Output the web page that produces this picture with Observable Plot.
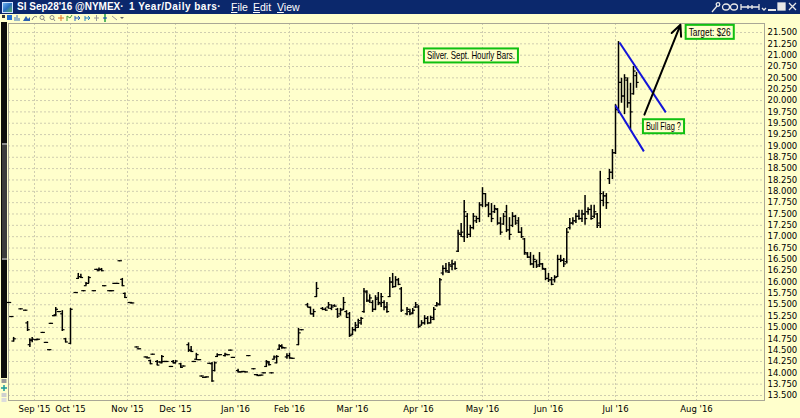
<!DOCTYPE html>
<html><head><meta charset="utf-8">
<script src="https://cdn.jsdelivr.net/npm/d3@7"></script>
<script src="https://cdn.jsdelivr.net/npm/@observablehq/plot@0.6"></script>
<style>
html,body{margin:0;padding:0;width:800px;height:418px;overflow:hidden;background:#ffffcc;position:relative;font-family:"Liberation Sans",Arial,sans-serif;}
#titlebar{position:absolute;left:0;top:0;width:800px;height:14px;background:#0b286c;color:#fff;font-size:10px;line-height:14px;white-space:nowrap;}
#titlebar span{position:absolute;top:0;}
.b{font-weight:bold;}
.u{text-decoration:underline;}
#icon{position:absolute;left:2px;top:2px;width:9px;height:9px;background:linear-gradient(135deg,#6fb4f0,#2a6fc0 50%,#5cb85c);border:1px solid #cfe3ff;}
#strip{position:absolute;left:1px;top:22px;width:6px;height:356px;background:#0c0c0c;}
#thumb{position:absolute;left:1px;top:121px;width:5px;height:117px;background:#3c3c3c;border-top:2px solid #8a8a8a;border-bottom:2px solid #8a8a8a;box-sizing:border-box;}
#chart{position:absolute;left:0;top:22px;}
</style></head>
<body>
<div id="titlebar">
  <div id="icon"></div>
  <span class="b" style="left:17px">SI Sep28'16 @NYMEX·</span>
  <span class="b" style="left:129px;letter-spacing:0.5px">1 Year/Daily bars·</span>
  <span style="left:231px;font-size:10.5px"><span class="u" style="position:static">F</span>ile</span>
  <span style="left:253px;font-size:10.5px"><span class="u" style="position:static">E</span>dit</span>
  <span style="left:277px;font-size:10.5px"><span class="u" style="position:static">V</span>iew</span>
</div>
<svg width="800" height="14" style="position:absolute;left:0;top:0">
  <g stroke="#e8e8e8" fill="none" stroke-width="1.3">
    <path d="M712 12L717 6"/><circle cx="718" cy="4.5" r="1.8"/>
    <ellipse cx="726" cy="7" rx="3.5" ry="3"/><ellipse cx="734" cy="7" rx="3.5" ry="3"/>
    <path d="M741 4V10M741 7H759M759 4V10M748 5V9M752 5V9"/>
    <path d="M762 8L764 10L766 8"/>
    <path d="M768 10H776" stroke-width="2"/>
    <rect x="778" y="3" width="7" height="7" fill="#e8e8e8"/>
    <path d="M789 3L796 10M796 3L789 10"/>
  </g>
</svg>
<svg width="130" height="9" style="position:absolute;left:0;top:14px">
  <rect x="2" y="1" width="3" height="3" fill="#333"/>
  <rect x="7" y="1" width="5" height="5" fill="#1e6fd0"/>
  <path d="M15 7V3M17 7V1M19 7V4" stroke="#3070c0"/>
  <path d="M23 7L26 2L28 5L30 3V7Z" fill="#2a5fb0"/>
  <path d="M32 6Q34 1 37 3" stroke="#777" fill="none"/>
  <circle cx="42" cy="3.5" r="2" stroke="#888" fill="none"/><path d="M43.5 5L45 7" stroke="#888"/>
  <circle cx="52" cy="3.5" r="2" stroke="#888" fill="none"/><path d="M53.5 5L55 7" stroke="#888"/>
  <path d="M61 1V7M58 4H64" stroke="#e07020"/>
  <path d="M67 7V2L70 4L72 1" stroke="#3a9a3a" fill="none"/>
  <path d="M75 2V7M75 4H80M78 2L80 4L78 6" stroke="#2060c0" fill="none"/>
  <path d="M85 2V7M85 4H90M88 2L90 4L88 6" stroke="#2080c0" fill="none"/>
  <path d="M96.5 1V7M94 4H99" stroke="#999"/>
  <path d="M105 0V8" stroke="#20a040" stroke-width="1.5"/><path d="M103 4H107" stroke="#1040c0"/>
  <path d="M112 2L117 6" stroke="#999"/>
  <path d="M120 3H124L122 5Z" fill="#666"/>
</svg>
<div id="strip"><div id="thumb"></div></div>
<svg width="8" height="26" style="position:absolute;left:0;top:378px">
  <rect x="1.5" y="1" width="5" height="4" fill="#9a9a9a"/>
  <path d="M4 7V13M1 10H7" stroke="#1a9a9a" stroke-width="1.5"/>
  <rect x="1.5" y="15" width="5" height="4" fill="#cfcfcf"/>
  <rect x="1.5" y="20" width="5" height="4" fill="#dcdcdc"/>
</svg>
<div id="chart"></div>
<script>
// ---- OHLC daily bars ----
const barDates = [
 "2015-08-17","2015-08-18","2015-08-19","2015-08-24","2015-08-26","2015-08-27","2015-08-28","2015-08-31",
 "2015-09-02","2015-09-03","2015-09-08","2015-09-10","2015-09-14","2015-09-15","2015-09-17","2015-09-18","2015-09-22","2015-09-24","2015-09-28",
 "2015-10-01","2015-10-05","2015-10-06","2015-10-07","2015-10-08","2015-10-09","2015-10-12","2015-10-14","2015-10-15","2015-10-16","2015-10-19","2015-10-20","2015-10-22","2015-10-23","2015-10-26","2015-10-27","2015-10-28","2015-10-29","2015-10-30",
 "2015-11-03","2015-11-04","2015-11-06","2015-11-09","2015-11-12","2015-11-13","2015-11-16","2015-11-17","2015-11-19","2015-11-20","2015-11-23","2015-11-24","2015-11-25","2015-11-27","2015-11-30",
 "2015-12-01","2015-12-03","2015-12-04","2015-12-08","2015-12-09","2015-12-10","2015-12-11","2015-12-14","2015-12-15","2015-12-16","2015-12-17","2015-12-18","2015-12-21","2015-12-22","2015-12-23","2015-12-24","2015-12-28","2015-12-29","2015-12-30","2015-12-31",
 "2016-01-04","2016-01-05","2016-01-06","2016-01-07","2016-01-08","2016-01-12","2016-01-13","2016-01-14","2016-01-15","2016-01-18","2016-01-19","2016-01-20","2016-01-21","2016-01-22","2016-01-25","2016-01-26","2016-01-27","2016-01-28","2016-01-29",
 "2016-02-01","2016-02-02","2016-02-04","2016-02-05","2016-02-09","2016-02-10","2016-02-11","2016-02-12","2016-02-16","2016-02-17","2016-02-18","2016-02-19","2016-02-22","2016-02-23","2016-02-24","2016-02-25","2016-02-26","2016-02-29",
 "2016-03-01","2016-03-02","2016-03-03","2016-03-04","2016-03-07","2016-03-08","2016-03-09","2016-03-10","2016-03-11","2016-03-14","2016-03-15","2016-03-16","2016-03-17","2016-03-18","2016-03-21","2016-03-22","2016-03-23","2016-03-24","2016-03-28","2016-03-29","2016-03-30","2016-03-31",
 "2016-04-01","2016-04-04","2016-04-05","2016-04-06","2016-04-07","2016-04-08","2016-04-11","2016-04-12","2016-04-13","2016-04-14","2016-04-15","2016-04-18","2016-04-19","2016-04-20","2016-04-21","2016-04-22","2016-04-25","2016-04-26","2016-04-27","2016-04-28","2016-04-29",
 "2016-05-02","2016-05-03","2016-05-04","2016-05-05","2016-05-06","2016-05-09","2016-05-10","2016-05-11","2016-05-12","2016-05-13","2016-05-16","2016-05-17","2016-05-18","2016-05-19","2016-05-20","2016-05-23","2016-05-24","2016-05-25","2016-05-26","2016-05-27","2016-05-30","2016-05-31",
 "2016-06-01","2016-06-02","2016-06-03","2016-06-06","2016-06-07","2016-06-08","2016-06-09","2016-06-10","2016-06-13","2016-06-14","2016-06-15","2016-06-16","2016-06-17","2016-06-20","2016-06-21","2016-06-22","2016-06-23","2016-06-24","2016-06-27","2016-06-28","2016-06-29","2016-06-30",
 "2016-07-01","2016-07-04","2016-07-05","2016-07-06","2016-07-07","2016-07-08","2016-07-11","2016-07-12"
];
const barOpen = [
 15.55,15.24,14.70,15.41,15.38,15.10,14.62,14.72,
 14.73,14.74,14.89,14.67,14.51,15.09,15.26,15.28,15.35,15.30,14.75,
 14.65,15.77,16.08,16.12,15.81,15.92,15.97,15.81,16.28,16.25,16.28,15.92,15.81,15.81,15.97,15.97,16.47,16.06,15.75,
 15.55,15.54,14.57,14.53,14.35,14.33,14.27,14.41,14.25,14.24,14.22,14.25,14.25,14.14,14.25,
 14.22,14.20,14.15,14.62,14.50,14.25,14.30,14.29,13.93,13.90,13.91,14.21,14.20,14.05,14.36,14.40,14.38,14.40,14.50,14.34,
 14.05,14.02,14.03,14.02,14.38,14.09,13.96,13.94,13.95,14.00,14.14,14.22,14.00,14.30,14.22,14.52,14.58,14.55,14.35,
 14.38,14.32,14.62,14.95,15.50,15.44,15.30,15.68,15.42,15.40,15.45,15.42,15.48,15.40,15.30,15.40,15.35,15.30,
 14.85,14.95,15.00,15.10,15.35,15.78,15.58,15.55,15.40,15.65,15.52,15.55,15.45,15.68,16.00,15.90,16.05,15.85,15.30,15.35,15.32,15.45,
 15.45,15.05,15.10,15.20,15.10,15.18,15.48,15.50,16.20,16.30,16.22,16.35,16.40,16.68,17.05,17.00,17.45,17.05,17.20,17.35,17.40,
 17.70,17.95,17.70,17.50,17.55,17.60,17.30,17.28,17.55,17.15,17.25,17.45,17.35,17.10,16.95,16.62,16.55,16.40,16.45,16.38,16.40,16.28,
 16.08,16.05,16.05,16.12,16.50,16.48,16.45,17.20,17.30,17.35,17.45,17.40,17.50,17.55,17.60,17.45,17.50,17.30,17.80,17.90,18.28,18.42,
 18.85,19.80,20.40,20.10,20.45,19.95,20.15,20.55
];
const barHigh = [
 15.55,15.24,14.78,15.41,15.38,15.13,14.75,14.78,
 14.73,14.74,14.89,14.67,14.51,15.09,15.26,15.44,15.35,15.37,14.76,
 15.42,15.77,16.19,16.17,15.81,15.99,16.12,15.81,16.28,16.31,16.30,15.92,15.81,15.81,15.97,15.97,16.47,16.08,15.76,
 15.55,15.54,14.57,14.53,14.35,14.33,14.28,14.41,14.27,14.24,14.38,14.25,14.25,14.14,14.27,
 14.27,14.21,14.15,14.66,14.58,14.25,14.43,14.29,13.93,13.90,13.91,14.21,14.23,14.24,14.42,14.40,14.43,14.40,14.50,14.34,
 14.08,14.02,14.03,14.02,14.38,14.09,13.96,13.94,13.95,14.00,14.27,14.25,14.00,14.37,14.38,14.62,14.62,14.55,14.42,
 14.43,14.32,14.98,14.95,15.53,15.45,15.40,15.99,15.44,15.43,15.55,15.50,15.50,15.42,15.42,15.66,15.37,15.33,
 15.00,15.11,15.18,15.22,15.86,15.81,15.72,15.59,15.70,15.77,15.75,15.59,15.55,16.10,16.19,16.12,16.08,15.88,15.44,15.40,15.42,15.55,
 15.48,15.15,15.26,15.24,15.25,15.44,15.55,16.08,16.36,16.41,16.43,16.48,16.45,17.14,17.29,17.80,17.51,17.25,17.51,17.45,17.75,
 18.08,17.95,17.75,17.73,17.69,17.62,17.42,17.51,17.69,17.42,17.53,17.47,17.42,17.20,16.96,16.65,16.65,16.59,16.48,16.65,16.41,16.30,
 16.19,16.10,16.14,16.59,16.59,16.52,17.18,17.40,17.42,17.51,17.58,17.58,17.91,17.64,17.69,17.69,17.51,18.44,17.99,17.95,18.48,18.92,
 19.91,21.30,20.49,20.57,20.50,20.38,20.75,20.62
];
const barLow = [
 15.55,15.24,14.68,15.41,15.38,14.91,14.56,14.66,
 14.73,14.74,14.89,14.67,14.51,15.09,15.26,15.26,15.35,14.91,14.66,
 14.62,15.77,16.06,16.08,15.81,15.92,15.97,15.81,16.28,16.24,16.23,15.92,15.81,15.81,15.97,15.97,16.47,15.90,15.64,
 15.55,15.54,14.57,14.53,14.35,14.33,14.18,14.41,14.16,14.24,14.20,14.25,14.25,14.14,14.20,
 14.20,14.10,14.15,14.45,14.45,14.25,14.27,14.29,13.93,13.90,13.91,14.21,13.79,14.02,14.34,14.40,14.35,14.40,14.50,14.34,
 14.00,14.02,14.03,14.02,14.38,14.09,13.96,13.94,13.95,14.00,14.12,14.15,14.00,14.29,14.20,14.50,14.52,14.55,14.30,
 14.30,14.32,14.60,14.95,15.44,15.28,15.22,15.66,15.37,15.36,15.40,15.37,15.45,15.20,15.25,15.37,15.20,14.78,
 14.82,14.90,14.98,15.05,15.31,15.55,15.53,15.33,15.37,15.48,15.44,15.37,15.31,15.66,15.86,15.88,15.92,15.33,15.26,15.26,15.28,15.42,
 14.98,15.04,15.05,15.06,15.08,15.15,15.45,15.48,16.14,16.20,16.19,16.25,16.26,16.65,16.98,16.87,16.96,16.98,17.15,17.29,17.31,
 17.64,17.64,17.42,17.31,17.51,17.25,17.03,17.25,17.09,16.92,17.20,17.25,17.07,16.96,16.59,16.52,16.36,16.30,16.30,16.32,16.26,16.03,
 15.99,15.92,15.98,16.10,16.43,16.32,16.40,17.15,17.25,17.29,17.36,17.31,17.25,17.47,17.36,17.40,17.18,17.18,17.66,17.60,18.15,18.26,
 18.81,19.71,19.94,19.69,19.83,19.36,20.12,20.27
];
const barClose = [
 15.55,15.24,14.75,15.41,15.38,14.95,14.72,14.74,
 14.73,14.74,14.89,14.67,14.51,15.09,15.26,15.40,15.35,14.95,14.68,
 15.40,15.77,16.12,16.10,15.81,15.97,16.10,15.81,16.28,16.28,16.25,15.92,15.81,15.81,15.97,15.97,16.47,15.92,15.66,
 15.55,15.54,14.57,14.53,14.35,14.33,14.20,14.41,14.17,14.24,14.36,14.25,14.25,14.14,14.22,
 14.26,14.12,14.15,14.50,14.47,14.25,14.40,14.29,13.93,13.90,13.91,14.21,13.82,14.22,14.40,14.40,14.41,14.40,14.50,14.34,
 14.02,14.02,14.03,14.02,14.38,14.09,13.96,13.94,13.95,14.00,14.25,14.18,14.00,14.35,14.36,14.60,14.56,14.55,14.38,
 14.33,14.32,14.88,14.95,15.45,15.30,15.35,15.86,15.40,15.38,15.50,15.45,15.47,15.25,15.38,15.55,15.22,14.82,
 14.95,15.05,15.15,15.20,15.80,15.60,15.65,15.40,15.62,15.55,15.68,15.45,15.35,16.00,15.90,16.05,15.95,15.38,15.40,15.30,15.38,15.50,
 15.02,15.10,15.20,15.10,15.22,15.40,15.52,16.05,16.30,16.25,16.38,16.40,16.30,17.08,17.10,17.55,17.05,17.20,17.45,17.40,17.70,
 17.95,17.70,17.50,17.40,17.62,17.30,17.10,17.45,17.15,17.05,17.45,17.30,17.10,17.00,16.65,16.55,16.40,16.50,16.35,16.40,16.30,16.08,
 16.05,15.95,16.10,16.50,16.48,16.40,17.10,17.30,17.35,17.45,17.40,17.50,17.40,17.60,17.40,17.55,17.25,17.95,17.90,17.75,18.42,18.85,
 19.80,20.40,20.10,20.50,19.95,19.75,20.65,20.40
];

// ---- axis values ----
const monthStarts = ["2015-09-01","2015-10-01","2015-11-01","2015-12-01","2016-01-01","2016-02-01","2016-03-01","2016-04-01","2016-05-01","2016-06-01","2016-07-01","2016-08-01"];
const monthLabels = ["Sep '15","Oct '15","Nov '15","Dec '15","Jan '16","Feb '16","Mar '16","Apr '16","May '16","Jun '16","Jul '16","Aug '16"];
const priceTicks = d3.range(13.5, 21.5 + 1e-9, 0.25);

// ---- annotations ----
const noteText  = ["Silver. Sept. Hourly Bars.", "Bull Flag ?", "Target: $26"];
const noteDate  = ["2016-04-26T05:00", "2016-07-20T11:00", "2016-08-04T00:00"];
const notePrice = [20.98, 19.42, 21.50];
const flagFromDate  = ["2016-07-04T08:00", "2016-07-01T00:00"];
const flagFromPrice = [21.28, 19.89];
const flagToDate    = ["2016-07-21T00:00", "2016-07-14T00:00"];
const flagToPrice   = [19.74, 18.88];
const arrowFromDate = "2016-07-14T03:00", arrowFromPrice = 19.69;
const arrowToDate   = "2016-07-26T08:00", arrowToPrice   = 21.67;

// trading-day index (weekdays only) counted from the first bar
const base = Date.UTC(2015, 7, 17);
function bizIndex(s) {
  const t = Date.parse(s.length === 10 ? s + "T00:00:00Z" : s + "Z");
  const days = (t - base) / 864e5;
  const whole = Math.floor(days), frac = days - whole;
  const w = Math.floor(whole / 7), r = whole - 7 * w;
  return w * 5 + Math.min(r, 5) + (r < 5 ? frac : 0);
}

const bars = barDates.map((d, i) => ({i: bizIndex(d), o: barOpen[i], h: barHigh[i], l: barLow[i], c: barClose[i]}));
const monthIdx = monthStarts.map(bizIndex);
const labelOf = new Map(monthIdx.map((v, i) => [v, monthLabels[i]]));
const notes = noteText.map((t, i) => ({t, x: bizIndex(noteDate[i]), y: notePrice[i]}));
const flags = flagFromDate.map((d, i) => ({x1: bizIndex(d), y1: flagFromPrice[i], x2: bizIndex(flagToDate[i]), y2: flagToPrice[i]}));
const arrows = [{x1: bizIndex(arrowFromDate), y1: arrowFromPrice, x2: bizIndex(arrowToDate), y2: arrowToPrice}];

// piecewise x scale anchors (screen layout of the platform's bar axis)
const anchorDates = ["2015-08-17", ...monthStarts.slice(0, 11), "2016-07-13", "2016-08-01"];
const anchorPx = [8.5, 34, 70, 127, 175, 235, 289, 352, 418, 482, 548, 615, 639, 696];

const leftTick = {draw(ctx, size) { const r = Math.sqrt(size / Math.PI); ctx.moveTo(-r, 0); ctx.lineTo(0.5, 0); }};
const rightTick = {draw(ctx, size) { const r = Math.sqrt(size / Math.PI); ctx.moveTo(-0.5, 0); ctx.lineTo(r, 0); }};

const gridColor = "#cfcdb0";
const chart = Plot.plot({
  width: 800, height: 396,
  marginLeft: 8, marginRight: 36, marginTop: 1, marginBottom: 18,
  style: {background: "transparent", fontFamily: "DejaVu Sans, sans-serif", fontSize: "8.5px", color: "#000", overflow: "visible"},
  x: {type: "linear", domain: anchorDates.map(bizIndex), range: anchorPx},
  y: {domain: [13.39, 21.698], range: [378, 1]},
  marks: [
    Plot.gridY(priceTicks, {stroke: gridColor, strokeOpacity: 1, strokeDasharray: "2,2"}),
    Plot.ruleX(monthIdx, {stroke: gridColor, strokeDasharray: "2,2"}),
    Plot.frame({stroke: "#a9a796"}),
    Plot.ruleX(bars, {x: "i", y1: "l", y2: "h", stroke: "#000", strokeWidth: 1.5}),
    Plot.dot(bars, {x: "i", y: "o", symbol: leftTick, r: 2.2, stroke: "#000", fill: "none", strokeWidth: 1.2}),
    Plot.dot(bars, {x: "i", y: "c", symbol: rightTick, r: 2.2, stroke: "#000", fill: "none", strokeWidth: 1.2}),
    Plot.link(flags, {x1: "x1", y1: "y1", x2: "x2", y2: "y2", stroke: "#1414d8", strokeWidth: 2}),
    Plot.arrow(arrows, {x1: "x1", y1: "y1", x2: "x2", y2: "y2", stroke: "#000", strokeWidth: 2, headLength: 9, headAngle: 50}),
    Plot.text(notes, {x: "x", y: "y", text: "t", fill: "#000", fontSize: 10.5, fontFamily: "Liberation Sans, Arial, sans-serif"}),
    Plot.axisY({anchor: "right", ticks: priceTicks, tickFormat: d3.format(".3f"), tickSize: 0, tickPadding: 3, fontSize: 8.5}),
    Plot.axisX({ticks: monthIdx, tickFormat: d => labelOf.get(d), tickSize: 0, tickPadding: 5, fontSize: 8.5})
  ]
});
document.getElementById("chart").appendChild(chart);

// green boxes around the annotation texts
const noteWidths = [88, 35, 42];
d3.select(chart).selectAll("text").filter(function() {
  return noteText.includes(this.textContent);
}).each(function() {
  const k = noteText.indexOf(this.textContent);
  this.setAttribute("textLength", noteWidths[k]);
  this.setAttribute("lengthAdjust", "spacingAndGlyphs");
  const b = this.getBBox();
  const rect = document.createElementNS("http://www.w3.org/2000/svg", "rect");
  rect.setAttribute("x", b.x - 3);
  rect.setAttribute("y", b.y - 1);
  rect.setAttribute("width", b.width + 6);
  rect.setAttribute("height", b.height + 2);
  rect.setAttribute("fill", "#ffffcc");
  rect.setAttribute("stroke", "#10c010");
  rect.setAttribute("stroke-width", 2);
  const tr = this.getAttribute("transform");
  if (tr) rect.setAttribute("transform", tr);
  this.parentNode.insertBefore(rect, this);
});
</script>
</body></html>
